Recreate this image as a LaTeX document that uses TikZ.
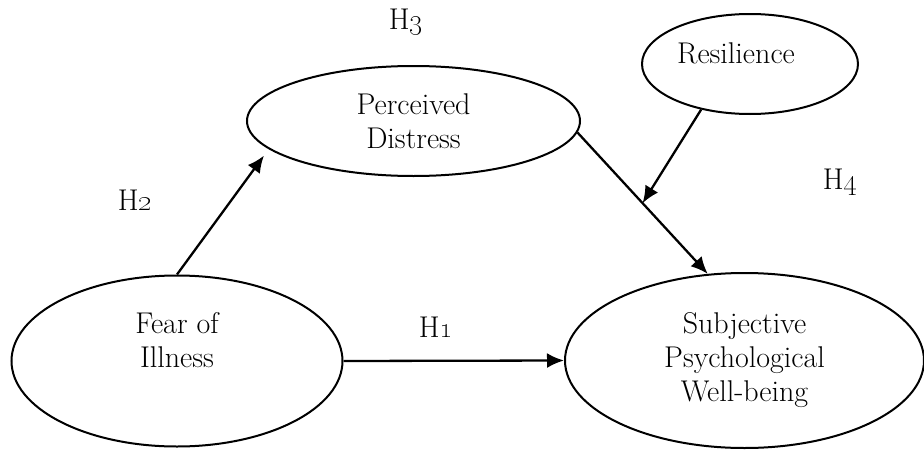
\documentclass[tikz,border=0pt]{standalone}
\usetikzlibrary{shapes.geometric,arrows.meta}
\tikzstyle{line} = [draw, line width=2.3pt, -{Latex[length=17pt,width=15pt]}]
\tikzstyle{construct} = [draw, ellipse, line width=2pt, inner sep=0pt, align=center]
\tikzstyle{hyp} = [inner sep=0pt]

\begin{document}
\begin{tikzpicture}[x=1pt, y=-1pt, font=\fontsize{30}{34}\selectfont]
        \useasboundingbox (0,0) rectangle (924,450);
        \node[construct, minimum width=331pt, minimum height=171pt, label={[yshift=21pt, align=center]center:Fear of\\Illness}] at (177,361) (fear) {};
        \node[construct, minimum width=333pt, minimum height=110pt] at (413.5,121) (distress) {Perceived\\Distress};
        \node[construct, minimum width=216pt, minimum height=100pt, label={[xshift=-14pt, yshift=11pt]center:Resilience}] at (750,64) (resil) {};
        \node[construct, minimum width=359pt, minimum height=175pt] at (744.5,360.5) (wellbeing) {Subjective\\Psychological\\Well-being};
        \node[hyp] at (436,327) (h1) {H\oldstylenums{1}};
        \node[hyp] at (135,200) (h2) {H\oldstylenums{2}};
        \node[hyp] at (406,22) (h3) {H\oldstylenums{3}};
        \node[hyp] at (840,182) (h4) {H\oldstylenums{4}};
        \path[line] (fear.east) -- (wellbeing.west);
        \path[line, shorten >=8pt] (fear.north) -- (distress.191);
        \path[line] (distress.-4) -- coordinate[pos=0.5] (moderate) (wellbeing.113);
        \path[line] (resil.223) -- (moderate);
    \end{tikzpicture}
\end{document}
